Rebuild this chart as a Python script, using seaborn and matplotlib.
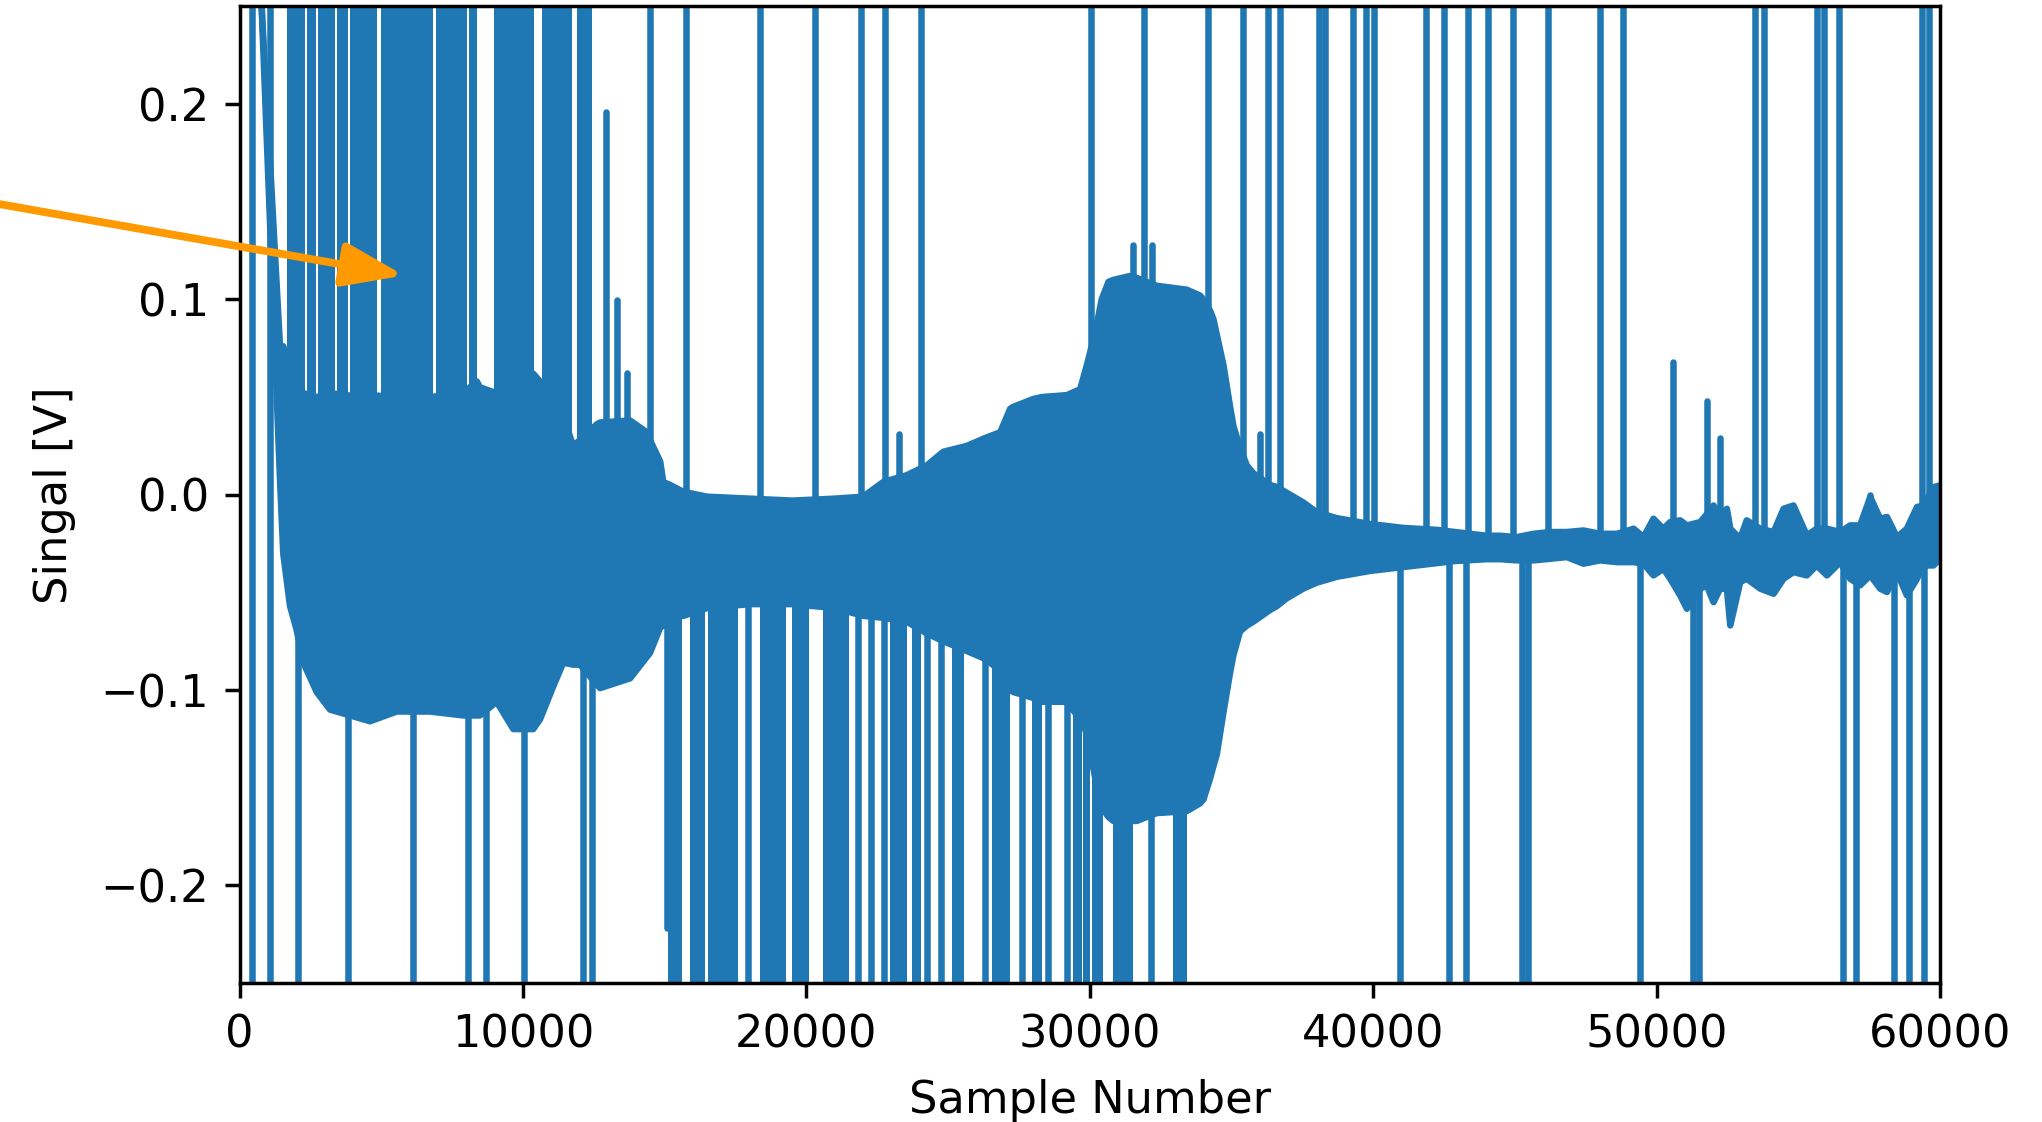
import numpy as np
import pandas as pd
import matplotlib
matplotlib.use("Agg")
import matplotlib.pyplot as plt
import seaborn as sns

# ---------------- data ----------------
# body envelope of the oscillating signal (sample number, upper, lower) [V]
env_x = [600, 780, 1425, 1540, 1780, 2010, 2250, 2720, 3190, 4370, 4600, 5540,
         6720, 7890, 8370, 8480, 9070, 9660, 10360, 10600, 11070, 11420, 11770,
         12010, 12600, 12720, 13780, 14370, 14480, 14840, 14950, 15190, 15660,
         16500, 18000, 19500, 21000, 22000, 22720, 23540, 24250, 24830, 25660,
         26300, 26840, 27190, 27300, 28000, 28300, 29190, 29660, 29890, 30190,
         30420, 30660, 30830, 31420, 31660, 32360, 33420, 33890, 34010, 34250,
         34360, 34480, 34720, 34950, 35070, 35300, 35540, 35770, 36360, 36600,
         36950, 37540, 38010, 38720, 39890, 40480, 41070, 42250, 42830, 44010,
         44480, 45070, 45660, 46240, 46830, 47420, 48010, 48600, 49190, 49540,
         49890, 50240, 50480, 50830, 51070, 51540, 51770, 52010, 52240, 52480,
         52600, 52950, 53180, 53660, 54130, 54480, 54830, 55300, 55650, 56010,
         56480, 56830, 57180, 57540, 57890, 58130, 58480, 58830, 59190, 59420,
         59770, 60000]
env_upper = [0.297, 0.249, 0.076, 0.076, 0.062, 0.052, 0.052, 0.050, 0.052, 0.050,
             0.051, 0.050, 0.050, 0.052, 0.058, 0.055, 0.052, 0.055, 0.062, 0.058,
             0.050, 0.040, 0.025, 0.028, 0.036, 0.037, 0.038, 0.032, 0.028, 0.017,
             0.0065, 0.005, 0.0015, -0.001, -0.002, -0.003, -0.002, -0.001, 0.0066,
             0.010, 0.015, 0.022, 0.025, 0.029, 0.032, 0.044, 0.045, 0.049, 0.050,
             0.051, 0.054, 0.066, 0.083, 0.100, 0.109, 0.110, 0.112, 0.111, 0.107,
             0.105, 0.102, 0.100, 0.094, 0.090, 0.082, 0.066, 0.045, 0.035, 0.024,
             0.015, 0.011, 0.005, 0.004, 0.001, -0.004, -0.009, -0.012, -0.015,
             -0.016, -0.017, -0.018, -0.019, -0.021, -0.021, -0.0217, -0.0200,
             -0.0191, -0.0191, -0.0183, -0.0200, -0.0200, -0.0174, -0.0217, -0.0123,
             -0.0174, -0.0140, -0.0131, -0.0157, -0.0140, -0.0100, -0.0055, -0.0120,
             -0.0072, -0.0174, -0.0225, -0.0131, -0.0174, -0.0191, -0.0072, -0.0055,
             -0.0208, -0.0174, -0.0174, -0.0191, -0.0157, -0.0157, -0.0012, -0.0123,
             -0.0114, -0.0217, -0.0174, -0.0063, -0.0055, 0.0039, 0.0048]
env_lower = [0.297, 0.249, 0.008, -0.030, -0.057, -0.069, -0.086, -0.101, -0.110,
             -0.115, -0.116, -0.111, -0.111, -0.113, -0.113, -0.113, -0.106, -0.120,
             -0.120, -0.115, -0.098, -0.086, -0.087, -0.087, -0.097, -0.099, -0.094,
             -0.083, -0.081, -0.068, -0.067, -0.062, -0.062, -0.058, -0.056, -0.056,
             -0.058, -0.062, -0.063, -0.065, -0.071, -0.075, -0.080, -0.084, -0.090,
             -0.100, -0.101, -0.104, -0.106, -0.106, -0.115, -0.122, -0.145, -0.160,
             -0.165, -0.167, -0.167, -0.167, -0.163, -0.162, -0.158, -0.156, -0.145,
             -0.139, -0.133, -0.111, -0.091, -0.082, -0.070, -0.067, -0.065, -0.059,
             -0.057, -0.053, -0.048, -0.045, -0.042, -0.039, -0.038, -0.037, -0.035,
             -0.034, -0.033, -0.033, -0.0336, -0.0336, -0.0328, -0.0319, -0.0353,
             -0.0336, -0.0345, -0.0345, -0.0353, -0.0413, -0.0379, -0.0430, -0.0515,
             -0.0584, -0.0481, -0.0464, -0.0550, -0.0481, -0.0481, -0.0669, -0.0447,
             -0.0430, -0.0481, -0.0507, -0.0430, -0.0396, -0.0413, -0.0362, -0.0413,
             -0.0345, -0.0430, -0.0464, -0.0413, -0.0481, -0.0498, -0.0396, -0.0515,
             -0.0430, -0.0362, -0.0362, -0.0328]

# dense bursts of glitches leaving the range (sample ranges as they appear)
up_block_start = [1662, 2390, 2770, 3440, 3900, 4980, 6930, 8110, 8980, 10660, 11900]
up_block_end = [2308, 2696, 3370, 3830, 4840, 6830, 8020, 8370, 10390, 11720, 12450]
down_block_start = [15130, 15890, 16540, 18360, 19480, 20600, 22950, 23720, 25130,
                    26540, 27950, 29420, 29770, 30070, 30830, 32950]
down_block_end = [15620, 16420, 17600, 19280, 20100, 21500, 23540, 24030, 25560,
                  27190, 28310, 29720, 30010, 30480, 31540, 33420]

# single glitch samples that leave the plotted range
spike_both_x = [438, 1062]
spike_up_x = [14470, 15760, 18380, 20320, 21940, 22780, 24040, 30030, 31900, 34160,
              35400, 36280, 36700, 38100, 38300, 39290, 39730, 40020, 41850, 42490,
              43340, 44050, 44940, 46160, 48000, 48820, 53480, 53800, 55650, 55920,
              56450, 59380, 59620]
spike_down_x = [2070, 3810, 6120, 8050, 8700, 10040, 12130, 12430, 17955, 21815,
                22275, 22745, 24265, 24745, 26305, 27615, 28510, 29200, 32155, 40950,
                42660, 43280, 45250, 45460, 49410, 51300, 51500, 56580, 57040, 58370,
                58920, 59420]
# short glitches that stay inside the plotted range
short_x = [12920, 13330, 13680, 15070, 23270, 31530, 32180, 36000, 50570, 51780,
           52240, 57540]
short_y = [0.196, 0.0995, 0.0625, -0.222, 0.031, 0.128, 0.128, 0.031, 0.068, 0.048,
           0.029, 0.0]

x_ticks = [0, 10000, 20000, 30000, 40000, 50000, 60000]
y_ticks = [-0.2, -0.1, 0.0, 0.1, 0.2]
arrow_tip = (5800, 0.1123)

# ---------------- drawing ----------------
BLUE = "#1f77b4"
ORANGE = "#ff9900"
BASE = -0.025
OUT = 0.32

plt.rcParams["font.size"] = 10.3

rows = []
sid = 0
for x in spike_both_x:
    rows += [(x, -OUT, sid), (x, OUT, sid)]
    sid += 1
for x in spike_up_x:
    rows += [(x, BASE, sid), (x, OUT, sid)]
    sid += 1
for x in spike_down_x:
    rows += [(x, BASE, sid), (x, -OUT, sid)]
    sid += 1
for x, y in zip(short_x, short_y):
    rows += [(x, BASE, sid), (x, y, sid)]
    sid += 1
seg = pd.DataFrame(rows, columns=["x", "y", "id"])

dpi = 312.5
fig = plt.figure(figsize=(2042 / dpi, 1122 / dpi), dpi=dpi)
ax = fig.add_axes([0.11734, 0.12389, 0.83271, 0.87032])

ax.fill_between(env_x, env_lower, env_upper, color=BLUE, lw=0)
for s, e in zip(up_block_start, up_block_end):
    ax.fill_between([s, e], BASE, OUT, color=BLUE, lw=0)
for s, e in zip(down_block_start, down_block_end):
    ax.fill_between([s, e], -OUT, BASE, color=BLUE, lw=0)

sns.lineplot(x=env_x, y=env_upper, ax=ax, color=BLUE, lw=1.5, estimator=None,
             sort=False, solid_capstyle="round")
sns.lineplot(x=env_x, y=env_lower, ax=ax, color=BLUE, lw=1.5, estimator=None,
             sort=False, solid_capstyle="round")
sns.lineplot(data=seg, x="x", y="y", units="id", estimator=None, sort=False,
             ax=ax, color=BLUE, lw=1.5, legend=False, solid_capstyle="round")

ax.set_xlim(0, 60000)
ax.set_ylim(-0.25, 0.25)
ax.set_xticks(x_ticks)
ax.set_yticks(y_ticks)
ax.set_xlabel("Sample Number", labelpad=5.2)
ax.set_ylabel("Singal [V]", labelpad=5.6)

ax.annotate("", xy=arrow_tip, xycoords="data", xytext=(0.0, 0.818),
            textcoords="figure fraction", annotation_clip=False,
            arrowprops=dict(arrowstyle="-|>,head_length=0.47,head_width=0.17",
                            mutation_scale=25, color=ORANGE, lw=1.8,
                            shrinkA=0, shrinkB=0))

fig.savefig("out.png", dpi=dpi)
